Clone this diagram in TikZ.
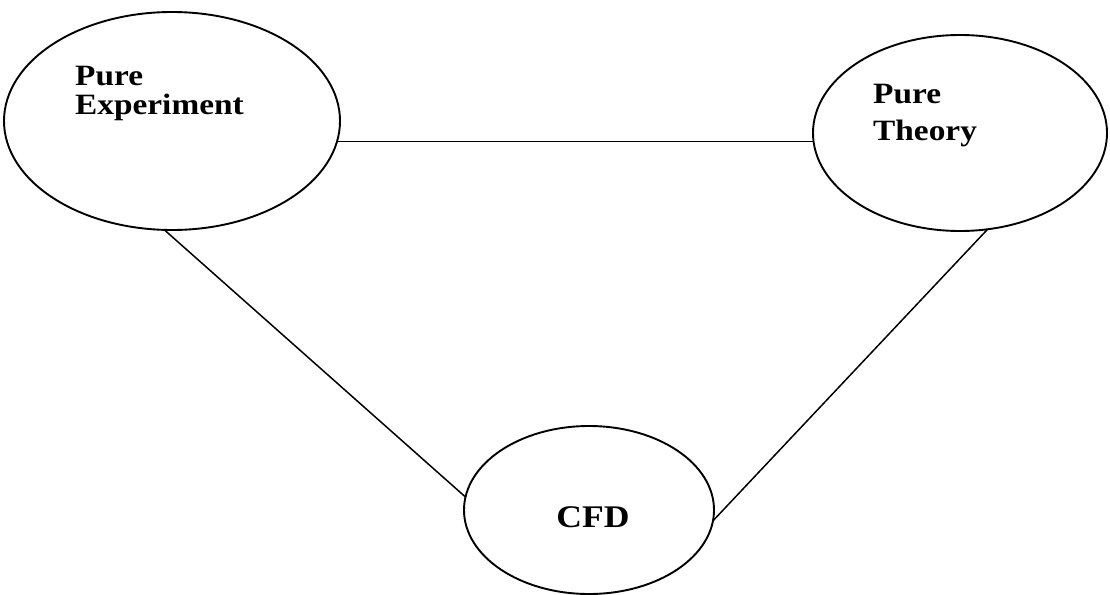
\documentclass[tikz,border=0pt]{standalone}
\usepackage{fontspec}
\setmainfont{Liberation Serif}
\newfontfamily\lblfont[FakeStretch=1.13]{Liberation Serif}
\usetikzlibrary{shapes.geometric}
\begin{document}
\begin{tikzpicture}[x=1pt,y=-1pt,
  bubble/.style={ellipse,draw,line width=1.9pt,inner sep=0pt,outer sep=0pt},
  lbl/.style={anchor=base west,inner sep=0pt,font=\lblfont\bfseries\fontsize{29.5}{34}\selectfont},
  link/.style={line width=1.5pt}]
\useasboundingbox (0,0) rectangle (1110,594);
\node[bubble,minimum width=336pt,minimum height=218pt] (exp) at (172,121) {};
\node[bubble,minimum width=294pt,minimum height=196pt] (thy) at (960,133) {};
\node[bubble,minimum width=250pt,minimum height=168pt] (cfd) at (589,510) {};
\node[lbl] (t1) at (75,85) {Pure};
\node[lbl] (t2) at (75,114) {Experiment};
\node[lbl] (t3) at (873,103) {Pure};
\node[lbl] (t4) at (873,140) {Theory};
\node[anchor=base,inner sep=0pt,font=\lblfont\bfseries\fontsize{31.5}{34}\selectfont] (t5) at (593,527) {CFD};
\draw[link] (exp.-7) -- (exp.-7 -| thy.west);
\draw[link] (exp.-94) -- (cfd.174.5);
\draw[link] (thy.-74.4) -- (cfd.-5.5);
\end{tikzpicture}
\end{document}
